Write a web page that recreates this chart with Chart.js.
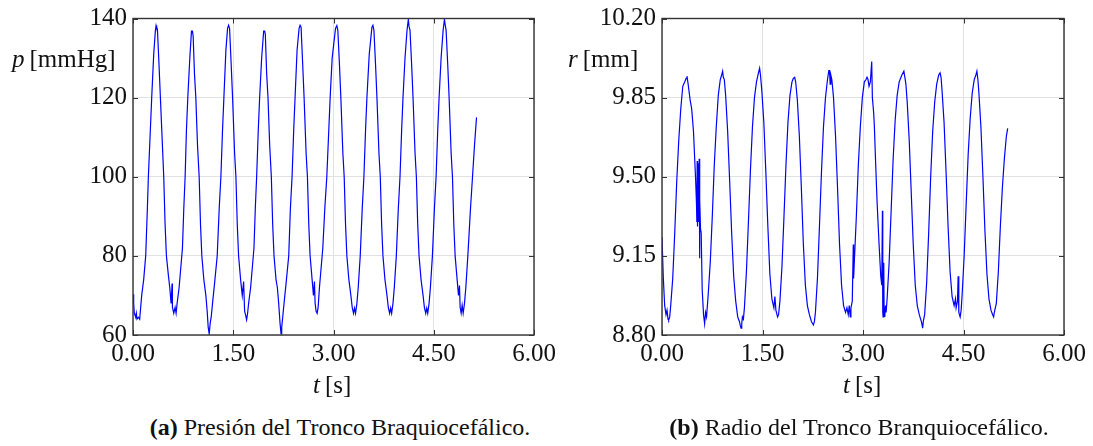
<!DOCTYPE html>
<html>
<head>
<meta charset="utf-8">
<script src="https://cdn.jsdelivr.net/npm/chart.js@4"></script>
<style>
  body { margin: 0; background: #fff; width: 1093px; height: 446px; position: relative; overflow: hidden; }
  canvas { position: absolute; top: 0; }
  .lbl { position: absolute; font-family: "Liberation Serif", serif; color: #111; white-space: nowrap; line-height: 1; }
  .ax { font-size: 25px; }
  .cap { font-size: 24px; text-align: center; width: 520px; }
  i { font-style: italic; }
</style>
</head>
<body>
<canvas id="chartP" width="580" height="400" style="left:0"></canvas>
<canvas id="chartR" width="553" height="400" style="left:540px"></canvas>

<div class="lbl ax" style="left:12px; top:46px"><i>p</i>&thinsp;[mmHg]</div>
<div class="lbl ax" style="left:568px; top:46px"><i>r</i>&thinsp;[mm]</div>
<div class="lbl ax" style="left:313px; top:372px"><i>t</i>&thinsp;[s]</div>
<div class="lbl ax" style="left:843px; top:372px"><i>t</i>&thinsp;[s]</div>
<div class="lbl cap" style="left:80px; top:415px"><b>(a)</b> Presión del Tronco Braquiocefálico.</div>
<div class="lbl cap" style="left:599px; top:415px"><b>(b)</b> Radio del Tronco Branquiocefálico.</div>

<script>
// tick labels
const timeTicks = [0, 1.5, 3, 4.5, 6];
const pressureTicks = [60, 80, 100, 120, 140];
const radiusTicks = [8.80, 9.15, 9.50, 9.85, 10.20];

// pressure signal, t [s] and p [mmHg]
const pTime = [
  0.00, 0.01, 0.02, 0.04, 0.05, 0.06, 0.08, 0.10, 0.11, 0.13, 0.16, 0.19, 0.215, 0.23, 0.26, 0.28, 0.31, 0.335, 0.345, 0.355, 0.365, 0.39, 0.41, 0.44, 0.46, 0.48, 0.50, 0.53, 0.55, 0.57, 0.585, 0.59, 0.61, 0.63, 0.645, 0.66, 0.69, 0.72, 0.74, 0.76, 0.78, 0.80, 0.82, 0.85, 0.875, 0.89, 0.90, 0.92, 0.94, 0.965, 0.99,
  1.01, 1.03, 1.06, 1.09, 1.11, 1.125, 1.14, 1.155, 1.17, 1.19, 1.22, 1.26, 1.29, 1.315, 1.34, 1.36, 1.39, 1.415, 1.43, 1.445, 1.47, 1.49, 1.52, 1.54, 1.56, 1.58, 1.61, 1.635, 1.655, 1.67, 1.685, 1.70, 1.715, 1.73, 1.76, 1.79, 1.81, 1.83, 1.85, 1.875, 1.895, 1.925, 1.955, 1.97, 1.98,
  2.00, 2.02, 2.045, 2.07, 2.09, 2.11, 2.14, 2.16, 2.18, 2.20, 2.215, 2.225, 2.24, 2.26, 2.29, 2.33, 2.355, 2.38, 2.405, 2.425, 2.455, 2.485, 2.50, 2.515, 2.54, 2.56, 2.59, 2.61, 2.63, 2.65, 2.68, 2.70, 2.715, 2.725, 2.74, 2.755, 2.77, 2.79, 2.82, 2.84, 2.87, 2.90, 2.93, 2.95, 2.98,
  3.03, 3.05, 3.065, 3.09, 3.11, 3.14, 3.16, 3.18, 3.20, 3.23, 3.26, 3.28, 3.30, 3.315, 3.33, 3.35, 3.37, 3.40, 3.43, 3.455, 3.48, 3.50, 3.535, 3.575, 3.59, 3.605, 3.63, 3.65, 3.68, 3.70, 3.72, 3.74, 3.77, 3.80, 3.82, 3.84, 3.855, 3.87, 3.89, 3.91, 3.94, 3.97, 3.995,
  4.02, 4.04, 4.07, 4.10, 4.12, 4.13, 4.145, 4.17, 4.19, 4.22, 4.24, 4.26, 4.28, 4.31, 4.34, 4.36, 4.38, 4.395, 4.41, 4.43, 4.45, 4.48, 4.51, 4.535, 4.56, 4.58, 4.61, 4.64, 4.66, 4.67, 4.685, 4.71, 4.73, 4.76, 4.78, 4.80, 4.82, 4.85, 4.87, 4.885, 4.895, 4.91, 4.925, 4.94, 4.96, 4.98,
  5.01, 5.05, 5.08, 5.11, 5.14
];
const pValue = [
  70.3, 68, 65.5, 64.5, 65.5, 64, 64.5, 64, 66, 70, 74, 80, 92, 100, 112, 120, 131, 137, 138.2, 137.5, 137.4, 128, 120, 108, 100, 88, 80, 75, 72, 68, 73, 67, 65.5, 67, 65.5, 68, 72, 78, 82, 92, 100, 112, 120, 130, 136.8, 136.8, 135.5, 126, 120, 108, 100,
  88, 80, 74, 70, 66, 62, 60.3, 63, 64.5, 68, 73, 80, 92, 100, 112, 120, 132, 137.5, 138.3, 137.5, 128, 120, 106, 100, 88, 80, 74, 70, 73.5, 66, 65, 63.8, 65.5, 68, 72, 78, 82, 92, 100, 112, 120, 130, 136.8, 136.8, 136,
  126, 120, 108, 100, 88, 80, 74, 72, 68, 63, 60.3, 62, 64.5, 68, 73, 80, 92, 100, 112, 120, 132, 137.5, 138.3, 137.8, 128, 120, 106, 100, 88, 80, 74, 70, 73.5, 68, 66, 65.5, 67, 72, 78, 82, 92, 100, 112, 120, 130,
  137.5, 138.2, 137, 128, 120, 106, 100, 88, 80, 74, 70, 67, 65.5, 66.8, 65.5, 68, 72, 80, 92, 100, 112, 120, 131, 137.8, 138.3, 137, 128, 120, 106, 100, 88, 80, 74, 70, 67, 65.5, 66.8, 65.5, 68, 72, 80, 92, 100,
  112, 120, 130, 137, 139.8, 138, 137, 128, 120, 106, 100, 88, 80, 74, 70, 67, 65.5, 66.8, 65.5, 68, 72, 80, 92, 100, 112, 120, 130, 137, 139.8, 138.5, 137, 128, 120, 106, 100, 88, 80, 74, 70, 72.5, 67, 65.5, 67.5, 65.5, 68, 72,
  80, 92, 100, 108, 115
];

// radius signal, t [s] and r [mm]
const rTime = [
  0.00, 0.02, 0.04, 0.06, 0.075, 0.09, 0.10, 0.115, 0.13, 0.16, 0.19, 0.22, 0.25, 0.28, 0.31, 0.34, 0.36, 0.373, 0.39, 0.42, 0.443, 0.47, 0.50, 0.515, 0.52, 0.525, 0.53, 0.54, 0.545, 0.555, 0.56, 0.565, 0.575, 0.585, 0.60, 0.62, 0.636, 0.65, 0.665, 0.69, 0.72, 0.75, 0.78, 0.81, 0.84, 0.87, 0.89, 0.905, 0.915, 0.93, 0.95, 0.98,
  1.01, 1.04, 1.07, 1.10, 1.13, 1.155, 1.17, 1.18, 1.19, 1.20, 1.215, 1.23, 1.26, 1.29, 1.32, 1.35, 1.38, 1.41, 1.44, 1.457, 1.47, 1.49, 1.52, 1.55, 1.58, 1.61, 1.64, 1.67, 1.685, 1.70, 1.725, 1.74, 1.76, 1.79, 1.82, 1.85, 1.88, 1.91, 1.94, 1.96, 1.98, 1.995,
  2.02, 2.05, 2.08, 2.11, 2.14, 2.17, 2.20, 2.23, 2.26, 2.275, 2.29, 2.32, 2.35, 2.38, 2.41, 2.44, 2.47, 2.49, 2.50, 2.51, 2.52, 2.535, 2.56, 2.59, 2.62, 2.65, 2.68, 2.71, 2.74, 2.76, 2.78, 2.795, 2.81, 2.82, 2.84, 2.855, 2.86, 2.87, 2.90, 2.93, 2.96, 2.99,
  3.02, 3.045, 3.06, 3.075, 3.09, 3.11, 3.13, 3.14, 3.16, 3.17, 3.19, 3.21, 3.24, 3.265, 3.28, 3.29, 3.295, 3.30, 3.31, 3.315, 3.325, 3.335, 3.345, 3.36, 3.39, 3.42, 3.45, 3.48, 3.51, 3.54, 3.58, 3.61, 3.625, 3.64, 3.66, 3.69, 3.72, 3.75, 3.78, 3.81, 3.84, 3.87, 3.885, 3.89, 3.90, 3.92, 3.95, 3.98,
  4.01, 4.04, 4.07, 4.10, 4.13, 4.15, 4.165, 4.18, 4.21, 4.24, 4.27, 4.30, 4.33, 4.36, 4.38, 4.39, 4.41, 4.42, 4.43, 4.45, 4.465, 4.48, 4.51, 4.54, 4.57, 4.60, 4.63, 4.66, 4.685, 4.70, 4.715, 4.73, 4.76, 4.79, 4.82, 4.85, 4.88, 4.91, 4.935, 4.95, 4.96, 4.975, 4.99,
  5.02, 5.05, 5.08, 5.11, 5.14, 5.16
];
const rValue = [
  9.233, 9.05, 8.93, 8.89, 8.91, 8.87, 8.866, 8.88, 8.93, 9.05, 9.25, 9.48, 9.66, 9.80, 9.90, 9.92, 9.935, 9.945, 9.91, 9.84, 9.80, 9.70, 9.50, 9.38, 9.30, 9.57, 9.28, 9.56, 9.30, 9.58, 9.14, 9.40, 9.27, 9.25, 9.00, 8.89, 8.85, 8.90, 8.88, 8.98, 9.12, 9.32, 9.55, 9.72, 9.86, 9.93, 9.95, 9.967, 9.94, 9.93, 9.86, 9.70,
  9.48, 9.25, 9.06, 8.95, 8.88, 8.86, 8.84, 8.83, 8.85, 8.88, 8.87, 8.92, 9.08, 9.30, 9.53, 9.72, 9.85, 9.92, 9.96, 9.98, 9.95, 9.88, 9.74, 9.52, 9.28, 9.07, 8.96, 8.92, 8.97, 8.91, 8.88, 8.89, 8.95, 9.10, 9.32, 9.55, 9.74, 9.86, 9.92, 9.935, 9.94, 9.92,
  9.84, 9.68, 9.45, 9.20, 9.02, 8.93, 8.89, 8.86, 8.844, 8.86, 8.90, 9.05, 9.28, 9.52, 9.72, 9.85, 9.93, 9.97, 9.97, 9.91, 9.95, 9.93, 9.85, 9.68, 9.45, 9.20, 9.02, 8.93, 8.90, 8.92, 8.89, 8.93, 8.88, 8.92, 8.95, 9.20, 9.05, 9.12, 9.32, 9.55, 9.72, 9.85,
  9.92, 9.93, 9.94, 9.93, 9.90, 9.92, 10.01, 9.85, 9.78, 9.72, 9.55, 9.39, 9.20, 9.06, 9.02, 9.35, 8.90, 8.88, 9.12, 8.90, 8.88, 8.93, 8.90, 8.96, 9.12, 9.35, 9.58, 9.75, 9.86, 9.92, 9.95, 9.967, 9.94, 9.91, 9.83, 9.66, 9.43, 9.20, 9.02, 8.93, 8.89, 8.86, 8.84, 8.83, 8.86, 8.89, 9.03, 9.25,
  9.50, 9.70, 9.83, 9.91, 9.95, 9.96, 9.94, 9.88, 9.74, 9.52, 9.28, 9.08, 8.97, 8.93, 8.96, 8.92, 8.95, 9.06, 8.90, 8.88, 8.91, 8.98, 9.15, 9.38, 9.60, 9.76, 9.87, 9.93, 9.95, 9.967, 9.93, 9.87, 9.72, 9.50, 9.26, 9.07, 8.96, 8.91, 8.89, 8.88, 8.90, 8.92, 8.94,
  9.08, 9.28, 9.45, 9.58, 9.68, 9.714
];

const serif = '"Liberation Serif", "DejaVu Serif", serif';

// small inward ticks on all four sides and the closed frame
const frameTicks = {
  id: 'frameTicks',
  afterDraw(chart) {
    const { ctx, chartArea: a, scales: { x, y } } = chart;
    ctx.save();
    ctx.strokeStyle = '#333';
    ctx.lineWidth = 1;
    ctx.beginPath();
    x.ticks.forEach(t => {
      const px = Math.round(x.getPixelForValue(t.value)) + 0.5;
      ctx.moveTo(px, a.bottom); ctx.lineTo(px, a.bottom - 5);
      ctx.moveTo(px, a.top); ctx.lineTo(px, a.top + 5);
    });
    y.ticks.forEach(t => {
      const py = Math.round(y.getPixelForValue(t.value)) + 0.5;
      ctx.moveTo(a.left, py); ctx.lineTo(a.left + 5, py);
      ctx.moveTo(a.right, py); ctx.lineTo(a.right - 5, py);
    });
    ctx.stroke();
    ctx.lineWidth = 1.4;
    ctx.strokeRect(a.left, a.top, a.right - a.left, a.bottom - a.top);
    ctx.restore();
  }
};

function makeChart(id, times, values, yTicks, yMin, yMax, yWidth, rightPad) {
  new Chart(document.getElementById(id), {
    type: 'line',
    data: {
      datasets: [{
        data: times.map((t, i) => ({ x: t, y: values[i] })),
        borderColor: '#0000ff',
        borderWidth: 1.2,
        pointRadius: 0,
        tension: 0
      }]
    },
    options: {
      responsive: false,
      animation: false,
      layout: { padding: { top: 17, right: rightPad, left: 0, bottom: 0 } },
      plugins: { legend: { display: false }, tooltip: { enabled: false } },
      scales: {
        x: {
          type: 'linear',
          min: 0,
          max: 6,
          afterBuildTicks: s => { s.ticks = timeTicks.map(v => ({ value: v })); },
          afterFit: s => { s.height = 65; },
          grid: { color: '#e2e2e2', lineWidth: 1, drawTicks: false },
          border: { display: false },
          ticks: {
            color: '#111',
            padding: 7,
            maxRotation: 0,
            font: { family: serif, size: 25, lineHeight: 1 },
            callback: v => v.toFixed(2)
          }
        },
        y: {
          min: yMin,
          max: yMax,
          afterBuildTicks: s => { s.ticks = yTicks.map(v => ({ value: v })); },
          afterFit: s => { s.width = yWidth; },
          grid: { color: '#e2e2e2', lineWidth: 1, drawTicks: false },
          border: { display: false },
          ticks: {
            color: '#111',
            padding: 6,
            font: { family: serif, size: 25, lineHeight: 1 },
            callback: v => (yMax > 100 ? String(v) : v.toFixed(2))
          }
        }
      }
    },
    plugins: [frameTicks]
  });
}

makeChart('chartP', pTime, pValue, pressureTicks, 60, 140, 133, 46);
makeChart('chartR', rTime, rValue, radiusTicks, 8.8, 10.2, 122, 29);
</script>
</body>
</html>
